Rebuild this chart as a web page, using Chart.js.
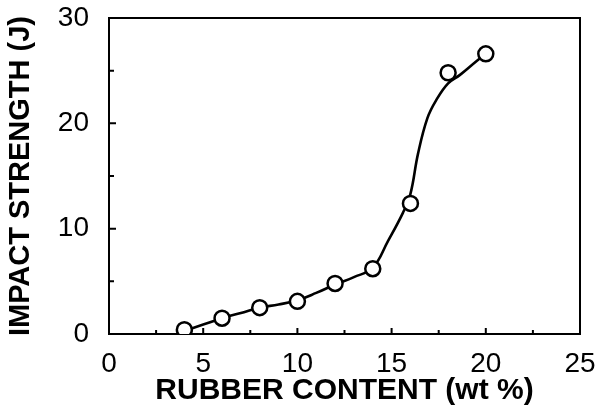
<!DOCTYPE html>
<html>
<head>
<meta charset="utf-8">
<script src="https://cdn.jsdelivr.net/npm/chart.js@4.4.1/dist/chart.umd.min.js"></script>
<style>
  html, body { margin: 0; padding: 0; background: #fff; }
  #wrap { width: 603px; height: 418px; }
</style>
</head>
<body>
<div id="wrap"><canvas id="chart"></canvas></div>
<script>
// measured points
const rubberContent = [4, 6, 8, 10, 12, 14, 16, 18, 20];
const impactStrength = [0.4, 1.5, 2.5, 3.1, 4.8, 6.2, 12.4, 24.8, 26.6];

// fitted curve
const curveX = [4.0, 5, 6, 7, 8, 9, 10, 11, 12, 13, 14, 14.8, 15.6, 16.0, 16.4, 16.9, 17.4, 18.0, 18.63, 19.5, 20];
const curveY = [0.3, 0.9, 1.5, 2.0, 2.5, 2.8, 3.2, 3.9, 4.7, 5.4, 6.3, 8.8, 11.5, 13.3, 17.1, 20.5, 22.3, 23.8, 24.6, 25.9, 26.6];

const xTicks = [0, 5, 10, 15, 20, 25];
const yTicks = [0, 10, 20, 30];

const markers = rubberContent.map((x, i) => ({ x: x, y: impactStrength[i] }));
const curve = curveX.map((x, i) => ({ x: x, y: curveY[i] }));

// frame and inward ticks
const frameTicks = {
    id: 'frameTicks',
    beforeDatasetsDraw(chart) {
        const { ctx, chartArea: a, scales } = chart;
        ctx.save();
        ctx.strokeStyle = '#000';
        ctx.lineWidth = 2;
        ctx.strokeRect(a.left, a.top, a.right - a.left, a.bottom - a.top);
        ctx.beginPath();
        for (let v = 0; v <= 25; v += 2.5) {
            const px = scales.x.getPixelForValue(v);
            const len = v % 5 === 0 ? 6 : 4;
            ctx.moveTo(px, a.bottom);
            ctx.lineTo(px, a.bottom - len);
        }
        for (let v = 0; v <= 30; v += 5) {
            const py = scales.y.getPixelForValue(v);
            const len = v % 10 === 0 ? 7 : 5;
            ctx.moveTo(a.left, py);
            ctx.lineTo(a.left + len, py);
        }
        ctx.stroke();
        ctx.restore();
    }
};

new Chart(document.getElementById('chart'), {
    type: 'scatter',
    data: {
        datasets: [
            {
                label: 'data',
                data: markers,
                showLine: false,
                pointRadius: 7.5,
                pointBorderWidth: 2.5,
                pointBackgroundColor: '#fff',
                pointBorderColor: '#000',
            },
            {
                label: 'fit',
                data: curve,
                showLine: true,
                pointRadius: 0,
                borderColor: '#000',
                borderWidth: 2.6,
                tension: 0.4,
            },
        ],
    },
    options: {
        responsive: true,
        maintainAspectRatio: false,
        animation: false,
        layout: { padding: { top: 18, right: 23, left: 0, bottom: 0 } },
        plugins: {
            legend: { display: false },
            tooltip: { enabled: false },
        },
        scales: {
            x: {
                type: 'linear',
                min: 0,
                max: 25,
                afterFit: s => {
                    s.height = 84;
                    s.paddingLeft = 0;
                    s.paddingRight = 0;
                },
                afterBuildTicks: s => { s.ticks = xTicks.map(v => ({ value: v })); },
                grid: { display: false },
                border: { display: false },
                ticks: {
                    color: '#000',
                    padding: 5,
                    font: { family: "'Liberation Sans', Arial, sans-serif", size: 28 },
                },
                title: {
                    display: true,
                    text: 'RUBBER CONTENT (wt %)',
                    color: '#000',
                    padding: { top: 0, bottom: 9 },
                    font: { family: "'Liberation Sans', Arial, sans-serif", size: 30, weight: 'bold' },
                },
            },
            y: {
                type: 'linear',
                min: 0,
                max: 30,
                afterFit: s => {
                    s.width = 109;
                    s.paddingTop = 0;
                    s.paddingBottom = 0;
                },
                afterBuildTicks: s => { s.ticks = yTicks.map(v => ({ value: v })); },
                grid: { display: false },
                border: { display: false },
                ticks: {
                    color: '#000',
                    padding: 12,
                    font: { family: "'Liberation Sans', Arial, sans-serif", size: 28 },
                },
                title: {
                    display: true,
                    text: 'IMPACT STRENGTH (J)',
                    color: '#000',
                    padding: { top: 4, bottom: 0 },
                    font: { family: "'Liberation Sans', Arial, sans-serif", size: 29, weight: 'bold' },
                },
            },
        },
    },
    plugins: [frameTicks],
});
</script>
</body>
</html>
